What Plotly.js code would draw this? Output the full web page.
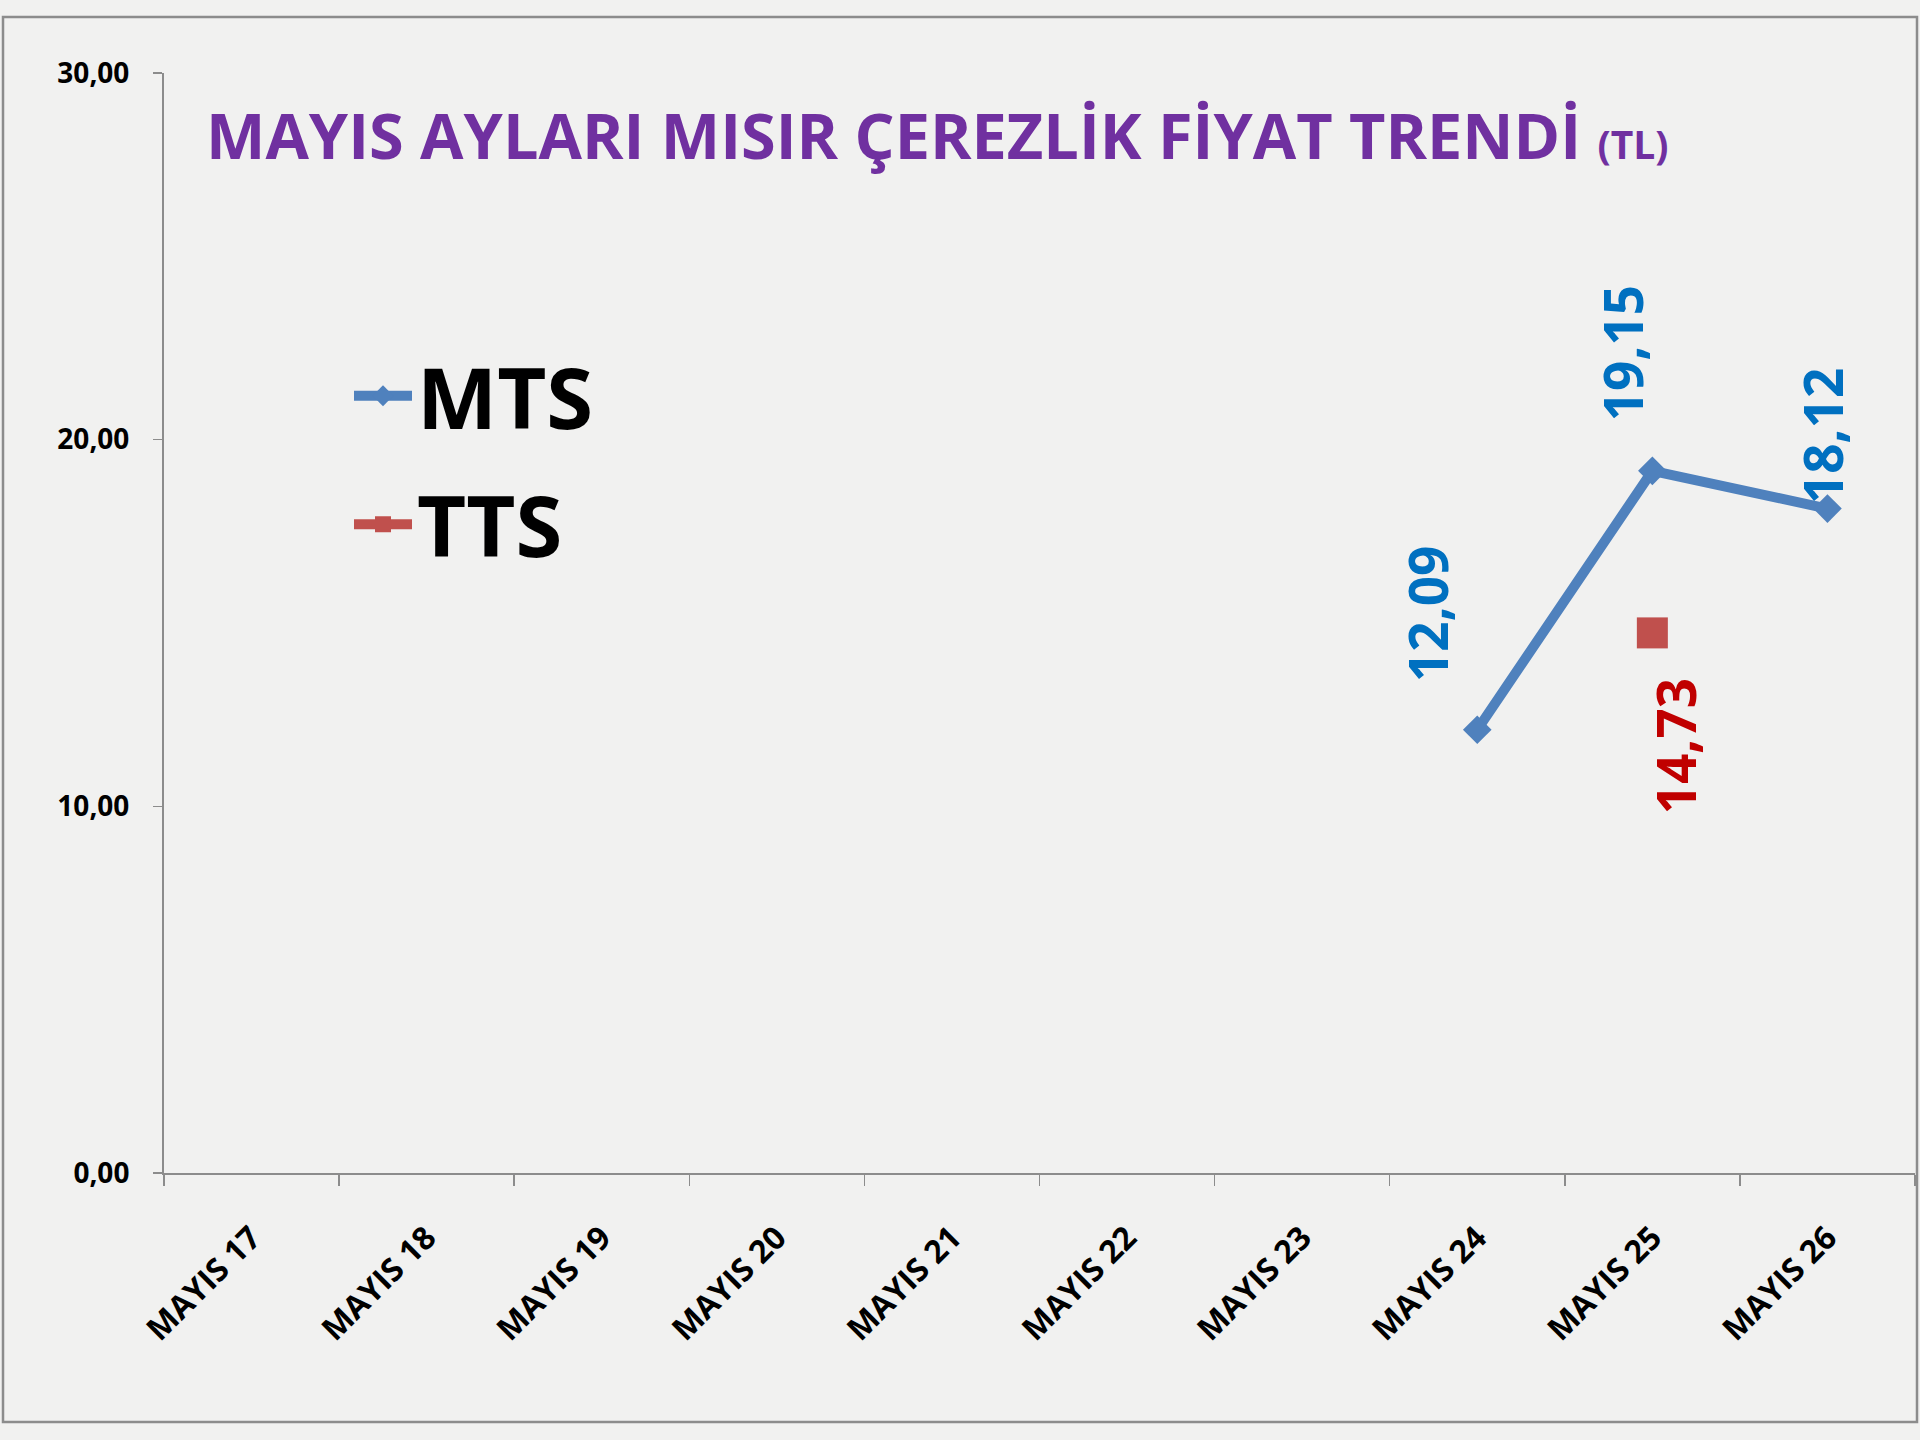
<!DOCTYPE html>
<html>
<head>
<meta charset="utf-8">
<script src="https://cdn.plot.ly/plotly-3.0.1.min.js"></script>
<style>
  html, body { margin: 0; padding: 0; background: #f1f1f0; }
  #chart { width: 1920px; height: 1440px; }
</style>
</head>
<body>
<div id="chart"></div>
<script>
const categories = ["MAYIS 17", "MAYIS 18", "MAYIS 19", "MAYIS 20", "MAYIS 21",
                    "MAYIS 22", "MAYIS 23", "MAYIS 24", "MAYIS 25", "MAYIS 26"];
const mtsValues = [null, null, null, null, null, null, null, 12.09, 19.15, 18.12];
const ttsValues = [null, null, null, null, null, null, null, null, 14.73, null];
const seriesNames = ["MTS", "TTS"];
const yTickValues = [0, 10, 20, 30];
const chartTitle = "MAYIS AYLARI MISIR ÇEREZLİK FİYAT TRENDİ";
const titleUnit = "(TL)";

const FONT = "Open Sans, Noto Sans, sans-serif";
const MTS_COLOR = "#4F81BD";
const TTS_COLOR = "#C0504D";
const MTS_LABEL = "#0070C0";
const TTS_LABEL = "#C00000";

// label offsets (pixels) per series/point — styling only
const mtsLabelShift = {7: [-50, 116], 8: [-30, 118], 9: [-5, 73]};
const ttsLabelShift = {8: [24, -113]};

const fmt = v => v.toFixed(2).replace(".", ",");

const traces = [
  {
    type: "scatter", mode: "lines+markers", name: seriesNames[0],
    x: categories, y: mtsValues, legendgroup: "a",
    line: {color: MTS_COLOR, width: 10},
    marker: {symbol: "diamond", size: 22, color: MTS_COLOR},
    connectgaps: false, cliponaxis: false
  },
  {
    type: "scatter", mode: "lines+markers", name: seriesNames[1],
    x: categories, y: ttsValues, legendgroup: "b",
    line: {color: TTS_COLOR, width: 10},
    marker: {symbol: "square", size: 31, color: TTS_COLOR},
    connectgaps: false, cliponaxis: false
  }
];

const annotations = [];
mtsValues.forEach((v, i) => {
  if (v === null) return;
  const s = mtsLabelShift[i] || [0, 60];
  annotations.push({x: categories[i], y: v, xref: "x", yref: "y", text: fmt(v),
    showarrow: false, textangle: -90, xshift: s[0], yshift: s[1],
    font: {family: FONT, size: 53, color: MTS_LABEL, weight: 700}});
});
ttsValues.forEach((v, i) => {
  if (v === null) return;
  const s = ttsLabelShift[i] || [0, -60];
  annotations.push({x: categories[i], y: v, xref: "x", yref: "y", text: fmt(v),
    showarrow: false, textangle: -90, xshift: s[0], yshift: s[1],
    font: {family: FONT, size: 53, color: TTS_LABEL, weight: 700}});
});

const L = 164, R = 5, T = 73, B = 267;
const pw = 1920 - L - R, ph = 1440 - T - B;
const px = X => (X - L) / pw;
const py = Y => (1440 - B - Y) / ph;

const layout = {
  width: 1920, height: 1440,
  paper_bgcolor: "#f1f1f0", plot_bgcolor: "rgba(0,0,0,0)",
  margin: {l: L, r: R, t: T, b: B, pad: 0},
  separators: ",.",
  font: {family: FONT, color: "#000"},
  title: {
    text: "<b>" + chartTitle + " <span style='font-size:39px'>" + titleUnit + "</span></b>",
    font: {family: FONT, size: 63, color: "#7030A0"},
    xref: "container", yref: "container",
    x: 206 / 1920, xanchor: "left",
    y: 1 - 137 / 1440, yanchor: "middle"
  },
  showlegend: true,
  legend: {
    x: px(349), xanchor: "left", y: py(334), yanchor: "top",
    bgcolor: "rgba(0,0,0,0)", borderwidth: 0,
    font: {family: FONT, size: 85, color: "#000", weight: 700},
    traceorder: "grouped", tracegroupgap: 15, itemsizing: "trace", itemwidth: 58
  },
  xaxis: {
    type: "category", range: [-0.5, 9.5], fixedrange: true,
    showline: true, linecolor: "#8c8c8c", linewidth: 2,
    ticks: "outside", tickson: "boundaries", ticklen: 11, tickcolor: "#8c8c8c", tickwidth: 1.5,
    tickangle: -45, ticklabelstandoff: 31,
    tickfont: {family: FONT, size: 32, color: "#000", weight: 700},
    showgrid: false, zeroline: false
  },
  yaxis: {
    range: [0, 30], tickvals: yTickValues, tickformat: ".2f", fixedrange: true,
    showline: true, linecolor: "#8c8c8c", linewidth: 2,
    ticks: "outside", ticklen: 9, tickcolor: "#8c8c8c", tickwidth: 1.5,
    ticklabelstandoff: 18,
    tickfont: {family: FONT, size: 28, color: "#000", weight: 700},
    showgrid: false, zeroline: false
  },
  annotations: annotations,
  shapes: [{
    type: "rect", xref: "paper", yref: "paper", layer: "below",
    x0: px(3), x1: px(1917), y0: py(1422), y1: py(17),
    line: {color: "#8c8c8c", width: 2.5}, fillcolor: "rgba(0,0,0,0)"
  }]
};

Plotly.newPlot("chart", traces, layout, {displayModeBar: false, staticPlot: true});
</script>
</body>
</html>
